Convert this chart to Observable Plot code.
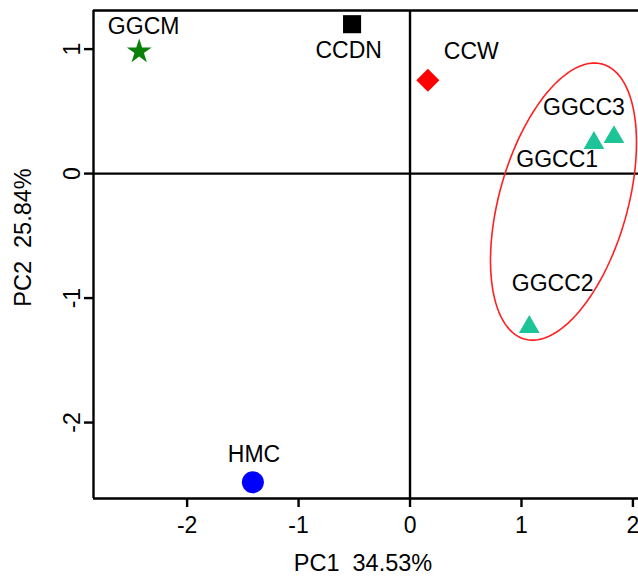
<!DOCTYPE html>
<html>
<head>
<meta charset="utf-8">
<script src="https://cdn.jsdelivr.net/npm/d3@7"></script>
<script src="https://cdn.jsdelivr.net/npm/@observablehq/plot@0.6"></script>
<style>
  html, body { margin: 0; padding: 0; background: #fff; }
  svg text { white-space: pre; }
</style>
</head>
<body>
<div id="chart"></div>
<script>
// ---- data ----
const samples = ["GGCM", "CCDN", "CCW", "GGCC1", "GGCC3", "GGCC2", "HMC"];
const groups  = ["GGCM", "CCDN", "CCW", "GGCC", "GGCC", "GGCC", "HMC"];
const pc1     = [-2.43, -0.52, 0.16, 1.65, 1.83, 1.07, -1.41];
const pc2     = [0.98, 1.20, 0.75, 0.245, 0.293, -1.233, -2.48];
// label anchor positions (data units)
const labelX  = [-2.39, -0.55, 0.55, 1.32, 1.56, 1.28, -1.40];
const labelY  = [1.18, 0.99, 0.98, 0.11, 0.53, -0.88, -2.26];
const xTicks  = [-2, -1, 0, 1, 2];
const yTicks  = [-2, -1, 0, 1];
const xTitle  = "PC1  34.53%";
const yTitle  = "PC2  25.84%";
// confidence ellipse around GGCC group: center and two semi-axis vectors (data units)
const ellipseCenter = [1.377, -0.225];
const ellipseAxisU  = [0.351, 1.104];
const ellipseAxisV  = [0.553, -0.141];

// ---- styling ----
const xDomain = [-2.84, 2.05];
const yDomain = [-2.61, 1.31];
const groupOrder = ["GGCM", "CCDN", "CCW", "GGCC", "HMC"];
const groupStyle = {
  GGCM: {symbol: "star", fill: "#0a7f0a", r: 7.8},
  CCDN: {symbol: "square", fill: "#000000", r: 10.2},
  CCW:  {symbol: "diamond2", fill: "#ff0000", r: 10.4},
  GGCC: {symbol: "triangle", fill: "#1cc497", r: 7.7},
  HMC:  {symbol: "circle", fill: "#0000ff", r: 11}
};

const points = samples.map((s, i) => ({sample: s, group: groups[i], x: pc1[i], y: pc2[i], lx: labelX[i], ly: labelY[i]}));

const ellipse = d3.range(0, 361, 3).map(deg => {
  const t = deg * Math.PI / 180;
  return {
    x: ellipseCenter[0] + ellipseAxisU[0] * Math.cos(t) + ellipseAxisV[0] * Math.sin(t),
    y: ellipseCenter[1] + ellipseAxisU[1] * Math.cos(t) + ellipseAxisV[1] * Math.sin(t)
  };
});

const fontSize = 23;
const lw = 2.4;
const centered = {textAnchor: "middle", lineAnchor: "middle", fill: "#000"};

const marks = [
  Plot.ruleX([0], {stroke: "#000", strokeWidth: lw}),
  Plot.ruleY([0], {stroke: "#000", strokeWidth: lw}),
  // frame: left, top, bottom
  Plot.ruleX([xDomain[0]], {stroke: "#000", strokeWidth: lw}),
  Plot.ruleY([yDomain[1]], {stroke: "#000", strokeWidth: lw}),
  Plot.ruleY([yDomain[0]], {stroke: "#000", strokeWidth: lw}),
  Plot.axisX({ticks: xTicks, tickSize: 9, tickFormat: () => "", strokeWidth: lw, label: null}),
  Plot.axisY({ticks: yTicks, tickSize: 9, tickFormat: () => "", strokeWidth: lw, label: null}),
  Plot.text(xTicks, {x: d => d, text: d => String(d), frameAnchor: "bottom", dy: 27, fontSize, ...centered}),
  Plot.text(yTicks, {y: d => d, text: d => String(d), frameAnchor: "left", dx: -21, rotate: -90, fontSize, ...centered}),
  Plot.text([xTitle], {text: d => d, frameAnchor: "bottom", dy: 65, dx: -3, fontSize: 23.5, ...centered}),
  Plot.text([yTitle], {text: d => d, frameAnchor: "left", dx: -70, dy: -17, rotate: -90, fontSize: 23.5, ...centered}),
  Plot.line(ellipse, {x: "x", y: "y", stroke: "#ff2020", strokeWidth: 1.6, curve: "linear-closed"}),
  ...groupOrder.map(g => Plot.dot(points.filter(p => p.group === g), {
    x: "x", y: "y", symbol: () => groupStyle[g].symbol, fill: groupStyle[g].fill, r: groupStyle[g].r, stroke: "none"
  })),
  Plot.text(points, {x: "lx", y: "ly", text: "sample", fontSize, ...centered})
];

const chart = Plot.plot({
  width: 638,
  height: 576,
  marginLeft: 93,
  marginRight: 0,
  marginTop: 10,
  marginBottom: 78,
  style: {fontFamily: "'Liberation Sans', Arial, sans-serif", background: "#fff", color: "#000"},
  x: {domain: xDomain, axis: null},
  y: {domain: yDomain, axis: null},
  symbol: {type: "identity"},
  marks
});
document.getElementById("chart").appendChild(chart);
</script>
</body>
</html>
